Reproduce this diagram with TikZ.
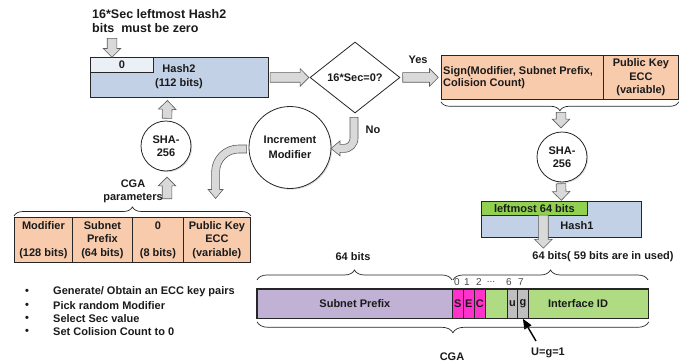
\documentclass[tikz,border=0pt]{standalone}
\usepackage{fontspec}
\setmainfont{Liberation Sans}
\usetikzlibrary{shapes.geometric,shapes.arrows,decorations.pathreplacing,shadows,calc,arrows.meta}

\definecolor{hashblue}{HTML}{C2D1E5}
\definecolor{hashlight}{HTML}{EBF0F7}
\definecolor{peach}{HTML}{F8CBAD}
\definecolor{leafgreen}{HTML}{92D050}
\definecolor{palegreen}{HTML}{AFDB83}
\definecolor{lavender}{HTML}{C0B1D5}
\definecolor{magentabit}{HTML}{FF33CC}
\definecolor{bitgray}{HTML}{BFBFBF}
\definecolor{arrowfill}{HTML}{D9D9D9}
\definecolor{edge}{HTML}{262626}
\definecolor{ink}{HTML}{1A1A1A}

\tikzset{
  txt/.style={font=\bfseries\fontsize{11}{13.5}\selectfont, text=ink, inner sep=0pt},
  cell/.style={draw=edge, line width=0.8pt, inner sep=0pt, anchor=north west},
  roundnode/.style={circle, draw=edge, line width=0.8pt, fill=white, inner sep=0pt,
    drop shadow={shadow xshift=1.2pt, shadow yshift=-1.2pt, opacity=0.25}},
  blockarr/.style={single arrow, draw=edge!75, fill=arrowfill, line width=0.6pt,
    inner xsep=0pt, inner ysep=4.5pt, single arrow head extend=4pt,
    single arrow tip angle=90},
  bendarrow/.style={draw=edge!75, fill=arrowfill, line width=0.6pt, line join=miter},
  bracket/.style={decorate, decoration={brace, amplitude=#1}, draw=edge, line width=0.7pt},
  idx/.style={font=\fontsize{10}{12}\selectfont, text=edge!85, inner sep=0pt},
  pointer/.style={-{Triangle[length=10pt,width=8pt]}, line width=1.4pt, draw=black},
}

% straight block arrow from #1 (tail) to #2 (tip)
\newcommand{\blockarrow}[2]{%
  \path let \p1=(#1), \p2=(#2),
    \n1={atan2(\y2-\y1,\x2-\x1)},
    \n2={veclen(\x2-\x1,\y2-\y1)} in
    node[blockarr, minimum height=\n2, rotate=\n1, anchor=tail] at (\p1) {};}

\begin{document}
\begin{tikzpicture}[x=1pt, y=-1pt]
\useasboundingbox (0,0) rectangle (688,364);

% ---- Hash2 and the zero-bits condition
\node[txt, font=\bfseries\fontsize{12.5}{14}\selectfont, align=left, anchor=west] (cap)
  at (92,21) {16*Sec leftmost Hash2\\bits\ \ must be zero};
\node[cell, fill=hashblue, minimum width=178pt, minimum height=40pt] (hash2) at (90,57) {};
\node[cell, fill=hashlight, minimum width=63pt, minimum height=15pt, txt] (hzero) at (90,57) {0};
\node[txt, align=center] (hash2lbl) at (179,76.5) {Hash2\\(112 bits)};

% ---- decision
\node[diamond, draw=edge, line width=0.8pt, fill=white, minimum width=90pt,
  minimum height=71pt, inner sep=0pt, txt] (dec) at (355,77.5) {16*Sec=0?};
\node[txt] (yes) at (418,60) {Yes};
\node[txt] (no) at (373,130) {No};

% ---- signature block
\node[cell, fill=peach, minimum width=162pt, minimum height=44pt] (sign) at (441,55) {};
\node[cell, fill=peach, minimum width=75pt, minimum height=44pt, txt, align=center] (pk1)
  at (603,55) {Public Key\\ECC\\(variable)};
\node[txt, font=\bfseries\fontsize{11}{11.6}\selectfont, align=left, anchor=west] (signlbl)
  at (443,77.5) {Sign(Modifier, Subnet Prefix,\\Colision Count)};

% ---- hashing circles
\node[roundnode, minimum size=50pt, txt, align=center,
  font=\bfseries\fontsize{11}{12.5}\selectfont] (shaL) at (166,146) {SHA-\\256};
\node[roundnode, minimum size=50pt, txt, align=center,
  font=\bfseries\fontsize{11}{13.5}\selectfont] (shaR) at (562,157) {SHA-\\256};
\node[roundnode, minimum size=82pt, txt, align=center,
  font=\bfseries\fontsize{11}{15}\selectfont] (incr) at (290,147.5) {Increment\\Modifier};

% ---- CGA parameters
\node[txt, align=center, font=\bfseries\fontsize{11}{13}\selectfont] (cgapar)
  at (133,191.5) {CGA\\parameters};
\node[cell, fill=peach, minimum width=58pt, minimum height=45pt, txt, align=center] (pmod)
  at (14,217) {Modifier\\~\\(128 bits)};
\node[cell, fill=peach, minimum width=60pt, minimum height=45pt, txt, align=center] (psub)
  at (72,217) {Subnet\\Prefix\\(64 bits)};
\node[cell, fill=peach, minimum width=51pt, minimum height=45pt, txt, align=center] (pzero)
  at (132,217) {0\\~\\(8 bits)};
\node[cell, fill=peach, minimum width=67pt, minimum height=45pt, txt, align=center] (ppk)
  at (183,217) {Public Key\\ECC\\(variable)};

% ---- Hash1
\node[cell, fill=hashblue, minimum width=160pt, minimum height=36pt] (hash1) at (481,201) {};
\node[cell, fill=leafgreen, minimum width=106pt, minimum height=14pt, txt] (left64)
  at (481,201) {leftmost 64 bits};
\node[txt] (hash1lbl) at (577,226) {Hash1};

% ---- address bar
\node[txt] (lbits) at (353,257) {64 bits};
\node[txt] (rbits) at (603,257) {64 bits( 59 bits are in used)};
\node[cell, fill=lavender, minimum width=195pt, minimum height=29pt, txt] (subnet)
  at (257,289) {Subnet Prefix};
\node[cell, fill=magentabit, minimum width=11pt, minimum height=29pt, txt] (sbit) at (452,289) {S};
\node[cell, fill=magentabit, minimum width=11pt, minimum height=29pt, txt] (ebit) at (463,289) {E};
\node[cell, fill=magentabit, minimum width=11pt, minimum height=29pt, txt] (cbit) at (474,289) {C};
\node[cell, fill=palegreen, minimum width=22pt, minimum height=29pt] (midbits) at (485,289) {};
\node[cell, fill=bitgray, minimum width=10pt, minimum height=29pt, txt] (ubit) at (507,289) {u};
\node[cell, fill=bitgray, minimum width=11pt, minimum height=29pt, txt] (gbit) at (517,289) {g};
\node[cell, fill=palegreen, minimum width=120pt, minimum height=29pt] (ifid) at (528,289) {};
\node[txt] (ifidlbl) at (578,303.5) {Interface ID};
\draw[edge, line width=1.2pt] (subnet.north west) rectangle (ifid.south east);

\node[idx] (i0) at (457,282) {0};
\node[idx] (i1) at (467,282) {1};
\node[idx] (i2) at (479,282) {2};
\node[idx] (idots) at (491,282) {...};
\node[idx] (i6) at (509,282) {6};
\node[idx] (i7) at (521,282) {7};

\node[txt] (cgalbl) at (452,357) {CGA};
\node[txt] (ulab) at (548,353) {U=g=1};
\coordinate (utail) at (536,341);
\draw[pointer] (utail) -- (gbit.south);

% ---- braces
\draw[bracket=9pt] ($(pmod.north west)+(0,-1)$) -- ($(ppk.north east)+(0,-1)$);
\draw[bracket=9pt] ($(pk1.south east)+(0,2)$) -- ($(sign.south west)+(0,2)$);
\draw[bracket=10pt] (257,280) -- (452,280);
\draw[bracket=10pt] (453,280) -- (648,280);
\draw[bracket=11pt] ($(ifid.south east)+(0,3)$) -- ($(subnet.south west)+(0,3)$);

% ---- straight block arrows
\coordinate (capfoot) at (112,38);
\coordinate (paramtop) at (167,199);
\coordinate (signtip) at (561,112);
\blockarrow{capfoot}{$(hash2.north west)+(22,0)$}
\blockarrow{$(shaL.north)+(1,-2)$}{$(hash2.south)+(-12,3)$}
\blockarrow{paramtop}{$(shaL.south)+(1,6)$}
\blockarrow{$(hash2.east)+(1,0)$}{$(dec.west)+(-1,0)$}
\blockarrow{$(dec.east)+(2,0)$}{$(sign.west)+(-3,0)$}
\blockarrow{signtip}{$(shaR.north)+(-1,-4)$}
\blockarrow{$(shaR.south)+(-1,1)$}{$(hash1.north)+(0,-1)$}
\blockarrow{$(left64.south)+(9,-1)$}{$(left64.south)+(9,32)$}

% ---- bent block arrows
\begin{scope}[shift={(dec.south)}]
  \path[bendarrow] (-5,4) -- (3,4) -- (3,25) arc[start angle=0, end angle=90, radius=14]
    -- (-15,39) -- (-15,42.5) -- (-24,35) -- (-15,27.5) -- (-15,31) -- (-11,31)
    arc[start angle=90, end angle=0, radius=6] -- cycle;
\end{scope}
\begin{scope}[shift={(incr.west)}]
  \path[bendarrow] (-2,-2.5) -- (-10,-2.5) arc[start angle=270, end angle=180, radius=27]
    -- (-37,42) -- (-40.5,42) -- (-33,51) -- (-25.5,42) -- (-29,42) -- (-29,24.5)
    arc[start angle=180, end angle=270, radius=19] -- (-2,5.5) -- cycle;
\end{scope}

% ---- set-up steps
\node[txt] (d1) at (27,292) {\textbullet};
\node[txt] (d2) at (27,306) {\textbullet};
\node[txt] (d3) at (27,319) {\textbullet};
\node[txt] (d4) at (27,332) {\textbullet};
\node[txt, anchor=west] (s1) at (53,292) {Generate/ Obtain an ECC key pairs};
\node[txt, anchor=west] (s2) at (53,306) {Pick random Modifier};
\node[txt, anchor=west] (s3) at (53,319) {Select Sec value};
\node[txt, anchor=west] (s4) at (53,332) {Set Colision Count to 0};

\end{tikzpicture}
\end{document}
